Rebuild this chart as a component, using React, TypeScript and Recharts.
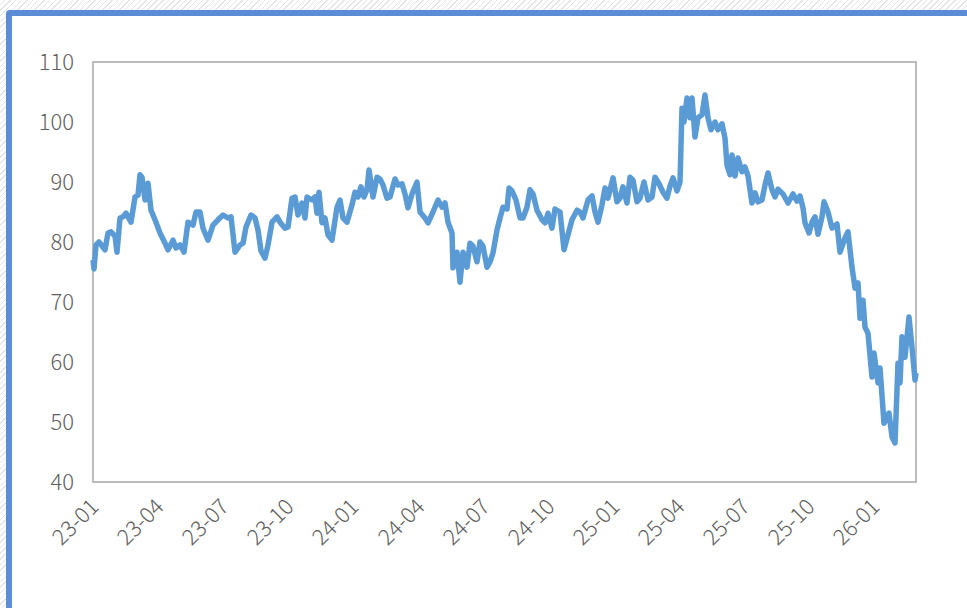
import { LineChart, Line, XAxis, YAxis, ReferenceArea } from 'recharts';

// trading-day index since 2023-01 and the index level on that day
const tradingDay = [
  0, 1, 3, 6, 12, 15, 18, 22, 24, 27, 30, 33, 38, 42, 45, 47, 49, 52, 55, 58,
  62, 67, 72, 75, 80, 83, 87, 91, 95, 100, 103, 107, 110, 115, 120, 125, 130, 135, 138, 142,
  147, 150, 153, 158, 162, 165, 168, 172, 175, 179, 184, 187, 192, 195, 199, 202, 205, 209, 212, 214,
  219, 222, 224, 226, 229, 232, 235, 239, 244, 247, 250, 254, 259, 262, 265, 268, 271, 274, 276, 280,
  284, 287, 290, 294, 297, 302, 305, 309, 312, 315, 319, 324, 327, 332, 335, 340, 345, 349, 352, 355,
  359, 360, 364, 367, 370, 374, 377, 380, 384, 387, 390, 394, 397, 400, 404, 407, 410, 414, 416, 419,
  423, 427, 430, 434, 437, 440, 444, 449, 452, 455, 459, 462, 467, 471, 475, 479, 484, 487, 490, 495,
  499, 502, 505, 509, 512, 515, 520, 524, 527, 530, 534, 537, 540, 544, 547, 551, 555, 559, 562, 566,
  570, 574, 577, 580, 584, 587, 589, 591, 594, 597, 599, 602, 605, 609, 612, 615, 618, 622, 625, 629,
  632, 634, 637, 639, 642, 645, 649, 652, 655, 659, 662, 665, 669, 672, 675, 679, 682, 685, 690, 695,
  700, 704, 707, 710, 712, 716, 719, 722, 725, 729, 731, 735, 739, 744, 747, 752, 755, 759, 762, 765,
  767, 770, 772, 775, 779, 781, 785, 787, 791, 796, 799, 802, 805, 807, 809, 812, 816, 819, 822, 823,
];

const indexValue = [
  77.0, 75.5, 79.5, 80.0, 78.7, 81.5, 81.7, 81.0, 78.3, 84.0, 84.2, 84.8, 83.3, 87.5, 87.8, 91.2, 90.8, 87.0, 89.8, 85.3,
  83.7, 81.5, 79.8, 78.7, 80.3, 79.0, 79.5, 78.3, 83.3, 82.8, 85.0, 85.0, 82.3, 80.3, 82.8, 83.7, 84.5, 84.0, 84.2, 78.3,
  79.5, 79.8, 82.5, 84.5, 84.0, 82.0, 78.5, 77.3, 79.5, 83.3, 84.2, 83.3, 82.3, 82.5, 87.3, 87.5, 84.5, 86.5, 84.0, 87.5,
  87.0, 87.5, 84.8, 88.3, 83.2, 84.0, 81.2, 80.3, 85.8, 87.0, 84.0, 83.3, 86.2, 88.3, 87.5, 89.2, 87.5, 88.7, 92.0, 87.5,
  90.8, 90.5, 89.5, 87.3, 87.5, 90.5, 89.5, 89.7, 88.0, 85.7, 88.0, 90.0, 85.0, 84.0, 83.2, 85.0, 87.0, 85.8, 86.5, 83.3,
  81.5, 75.7, 78.3, 73.3, 78.3, 75.8, 79.8, 79.3, 76.7, 80.0, 79.3, 75.8, 76.7, 78.2, 82.0, 84.0, 85.8, 85.5, 89.0, 88.5,
  87.0, 84.0, 84.0, 85.8, 88.7, 88.0, 85.3, 83.7, 83.2, 84.8, 82.3, 85.5, 85.0, 78.7, 81.2, 83.7, 85.3, 85.0, 84.0, 87.0,
  87.7, 85.0, 83.3, 86.2, 89.0, 87.3, 90.7, 86.7, 87.3, 89.2, 86.5, 90.8, 90.3, 86.7, 87.3, 90.0, 87.0, 87.5, 90.8, 89.7,
  88.3, 87.3, 89.3, 90.7, 88.5, 90.0, 102.3, 100.0, 104.0, 100.7, 104.0, 97.5, 100.7, 101.2, 104.5, 100.7, 98.7, 100.0, 98.7, 99.7,
  97.3, 92.8, 91.2, 94.5, 91.0, 94.0, 91.7, 92.5, 91.0, 86.5, 88.2, 86.7, 87.0, 89.5, 91.5, 88.7, 87.5, 88.8, 88.0, 86.5,
  88.0, 86.8, 87.7, 85.7, 83.2, 81.5, 83.3, 84.2, 81.3, 84.2, 86.7, 85.0, 82.3, 83.0, 78.3, 80.7, 81.7, 75.8, 72.3, 73.2,
  67.3, 70.3, 65.8, 64.8, 57.5, 61.5, 56.5, 59.0, 49.8, 51.5, 47.5, 46.5, 59.8, 56.5, 64.2, 60.8, 67.5, 62.5, 57.0, 58.2,
];

const quarterTicks = [0, 65, 130, 195, 260, 326, 391, 456, 521, 586, 651, 716, 781];
const quarterLabels = [
  '23-01', '23-04', '23-07', '23-10', '24-01', '24-04', '24-07',
  '24-10', '25-01', '25-04', '25-07', '25-10', '26-01',
];
const yTicks = [40, 50, 60, 70, 80, 90, 100, 110];

const data = tradingDay.map((t, i) => ({ t, value: indexValue[i] }));

const FONT = '"Noto Sans CJK SC", "Noto Sans", sans-serif';
const TEXT = '#606060';

const QuarterTick = ({ x, y, payload }: any) => {
  const label = quarterLabels[quarterTicks.indexOf(payload.value)] ?? '';
  return (
    <g transform={`translate(${x},${y + 19})`}>
      <text
        transform="rotate(-45)"
        textAnchor="end"
        dominantBaseline="central"
        fill={TEXT}
        fontSize={22}
        fontWeight={300}
        fontFamily={FONT}
      >
        {label}
      </text>
    </g>
  );
};

export default function App() {
  return (
    <div
      style={{
        position: 'absolute',
        left: 0,
        top: 0,
        width: 967,
        height: 608,
        overflow: 'hidden',
        background:
          'repeating-linear-gradient(135deg, #ffffff 0px, #ffffff 3px, #e4e4e4 3px, #e4e4e4 4px)',
      }}
    >
      <div
        style={{
          position: 'absolute',
          left: 6,
          top: 10,
          width: 980,
          height: 620,
          border: '6px solid #5a8dd6',
          borderRadius: 4,
          background: '#ffffff',
        }}
      />
      <div style={{ position: 'absolute', left: 0, top: 0 }}>
        <LineChart
          width={967}
          height={608}
          data={data}
          margin={{ top: 62, right: 51, bottom: 66, left: 33 }}
        >
          <ReferenceArea
            x1={0}
            x2={823}
            y1={40}
            y2={110}
            fill="none"
            stroke="#a6a6a6"
            strokeWidth={1.5}
            ifOverflow="visible"
          />
          <XAxis
            type="number"
            dataKey="t"
            domain={[0, 823]}
            ticks={quarterTicks}
            interval={0}
            axisLine={false}
            tickLine={false}
            tickSize={0}
            tickMargin={0}
            height={60}
            tick={<QuarterTick />}
          />
          <YAxis
            domain={[40, 110]}
            ticks={yTicks}
            interval={0}
            axisLine={false}
            tickLine={false}
            tickSize={0}
            tickMargin={19}
            width={60}
            tick={{ fill: TEXT, fontSize: 22, fontWeight: 300, fontFamily: FONT }}
          />
          <Line
            type="linear"
            dataKey="value"
            stroke="#5b9bd5"
            strokeWidth={5.5}
            strokeLinejoin="round"
            dot={false}
            activeDot={false}
            isAnimationActive={false}
          />
        </LineChart>
      </div>
    </div>
  );
}
